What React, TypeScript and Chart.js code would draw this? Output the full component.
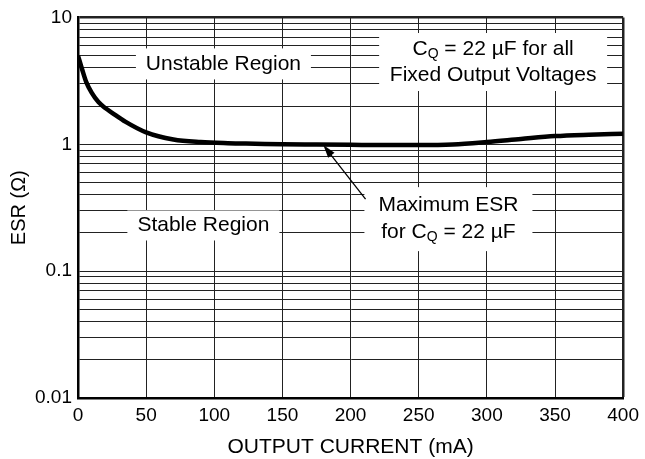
import React, { useEffect, useRef } from "react";
import { Chart, registerables } from "chart.js";

Chart.register(...registerables);

// ---- data ----
const currentMA = [0, 3, 6, 10, 15, 20, 25, 35, 50, 70, 90, 110, 130, 150, 175, 200, 225, 250, 275, 300, 325, 350, 375, 400];
const esrMax = [5.0, 3.9, 3.1, 2.55, 2.15, 1.93, 1.77, 1.5, 1.24, 1.09, 1.04, 1.02, 1.01, 1.0, 0.995, 0.99, 0.985, 0.985, 0.995, 1.04, 1.1, 1.16, 1.19, 1.21];

const xTicks = [0, 50, 100, 150, 200, 250, 300, 350, 400];
const yDecades = [0.01, 0.1, 1, 10];
const yDecadeLabels = ["0.01", "0.1", "1", "10"];
const yMultipliers = [1, 2, 3, 4, 5, 6, 7, 8, 9];

const xTitle = "OUTPUT CURRENT (mA)";
const yTitle = "ESR (Ω)";

// annotation anchors (data units)
type Seg = { t: string; sub?: boolean };
const notes: { lines: Seg[][]; x: number; y: number; w: number; h: number; gap: number }[] = [
  { lines: [[{ t: "Unstable Region" }]], x: 106.7, y: 4.3, w: 175, h: 31, gap: 0 },
  { lines: [[{ t: "Stable Region" }]], x: 92, y: 0.229, w: 152, h: 30, gap: 0 },
  {
    lines: [
      [{ t: "C" }, { t: "Q", sub: true }, { t: " = 22 µF for all" }],
      [{ t: "Fixed Output Voltages" }],
    ],
    x: 304.6, y: 4.45, w: 228, h: 58, gap: 26,
  },
  {
    lines: [
      [{ t: "Maximum ESR" }],
      [{ t: "for C" }, { t: "Q", sub: true }, { t: " = 22 µF" }],
    ],
    x: 271.8, y: 0.257, w: 168, h: 64, gap: 27,
  },
];
const arrowTip = { x: 180, y: 0.985 };
const arrowTail = { x: 211, y: 0.37 };

const FONT = '"Liberation Sans", Arial, Helvetica, sans-serif';

const yGrid: number[] = [];
yDecades.slice(0, 3).forEach((d) => yMultipliers.forEach((m) => yGrid.push(+(d * m).toPrecision(3))));
yGrid.push(10);

const annotPlugin = {
  id: "annot",
  afterDatasetsDraw(chart: any) {
    const { ctx, scales } = chart;
    const xs = scales.x, ys = scales.y;
    ctx.save();
    const fs = 21;
    const subFs = 14;
    for (const n of notes) {
      const cx = xs.getPixelForValue(n.x);
      const cy = ys.getPixelForValue(n.y);
      ctx.fillStyle = "#fff";
      ctx.fillRect(cx - n.w / 2, cy - n.h / 2, n.w, n.h);
      ctx.fillStyle = "#000";
      ctx.textBaseline = "middle";
      ctx.textAlign = "left";
      const count = n.lines.length;
      n.lines.forEach((line, i) => {
        const ly = cy + (i - (count - 1) / 2) * n.gap;
        let total = 0;
        line.forEach((s) => {
          ctx.font = `${s.sub ? subFs : fs}px ${FONT}`;
          total += ctx.measureText(s.t).width;
        });
        let x = cx - total / 2;
        line.forEach((s) => {
          ctx.font = `${s.sub ? subFs : fs}px ${FONT}`;
          ctx.fillText(s.t, x, s.sub ? ly + 5 : ly);
          x += ctx.measureText(s.t).width;
        });
      });
    }
    // arrow
    const tx = xs.getPixelForValue(arrowTip.x), ty = ys.getPixelForValue(arrowTip.y);
    const sx = xs.getPixelForValue(arrowTail.x), sy = ys.getPixelForValue(arrowTail.y);
    const ang = Math.atan2(ty - sy, tx - sx);
    const hl = 13, hw = 4;
    ctx.strokeStyle = "#000";
    ctx.lineWidth = 1.3;
    ctx.beginPath();
    ctx.moveTo(sx, sy);
    ctx.lineTo(tx - Math.cos(ang) * hl * 0.8, ty - Math.sin(ang) * hl * 0.8);
    ctx.stroke();
    ctx.fillStyle = "#000";
    ctx.beginPath();
    ctx.moveTo(tx, ty);
    ctx.lineTo(tx - Math.cos(ang) * hl - Math.sin(ang) * hw, ty - Math.sin(ang) * hl + Math.cos(ang) * hw);
    ctx.lineTo(tx - Math.cos(ang) * hl + Math.sin(ang) * hw, ty - Math.sin(ang) * hl - Math.cos(ang) * hw);
    ctx.closePath();
    ctx.fill();
    ctx.restore();
  },
};

export default function App() {
  const ref = useRef<HTMLCanvasElement>(null);
  useEffect(() => {
    if (!ref.current) return;
    const chart = new Chart(ref.current, {
      type: "line",
      data: {
        datasets: [
          {
            data: currentMA.map((x, i) => ({ x, y: esrMax[i] })),
            borderColor: "#000",
            borderWidth: 4.5,
            pointRadius: 0,
            cubicInterpolationMode: "monotone",
            fill: false,
          },
        ],
      },
      options: {
        animation: false,
        responsive: true,
        maintainAspectRatio: false,
        layout: { padding: { top: 14, right: 18, left: 0, bottom: 0 } },
        plugins: { legend: { display: false }, tooltip: { enabled: false } },
        scales: {
          x: {
            type: "linear",
            min: 0,
            max: 400,
            afterFit: (s: any) => { s.height = 61; },
            afterBuildTicks: (s: any) => { s.ticks = xTicks.map((v) => ({ value: v })); },
            ticks: { color: "#000", font: { family: FONT, size: 19 }, padding: 6, maxRotation: 0, autoSkip: false },
            grid: {
              color: "#222",
              lineWidth: (c: any) => (c.tick && c.tick.value === 400 ? 2.5 : 1),
              drawTicks: false,
            },
            border: { color: "#000", width: 2.5 },
            title: { display: true, text: xTitle, color: "#000", font: { family: FONT, size: 21, lineHeight: 1 }, padding: { top: 0, bottom: 1 } },
          },
          y: {
            type: "logarithmic",
            min: 0.01,
            max: 10,
            afterFit: (s: any) => { s.width = 78; },
            afterBuildTicks: (s: any) => { s.ticks = yGrid.map((v) => ({ value: v })); },
            ticks: {
              color: "#000",
              font: { family: FONT, size: 19 },
              padding: 6,
              autoSkip: false,
              callback: (v: any) => {
                const i = yDecades.findIndex((d) => Math.abs(v - d) / d < 1e-6);
                return i >= 0 ? yDecadeLabels[i] : "";
              },
            },
            grid: {
              color: "#222",
              lineWidth: (c: any) => (c.tick && c.tick.value === 10 ? 2.5 : 1),
              drawTicks: false,
            },
            border: { color: "#000", width: 2.5 },
            title: { display: true, text: yTitle, color: "#000", font: { family: FONT, size: 20, lineHeight: 1 }, padding: { top: 9, bottom: 0 } },
          },
        },
      },
      plugins: [annotPlugin],
    } as any);
    return () => chart.destroy();
  }, []);
  return (
    <div style={{ position: "fixed", left: 0, top: 0, width: 645, height: 459, background: "#fff" }}>
      <canvas ref={ref} />
    </div>
  );
}
